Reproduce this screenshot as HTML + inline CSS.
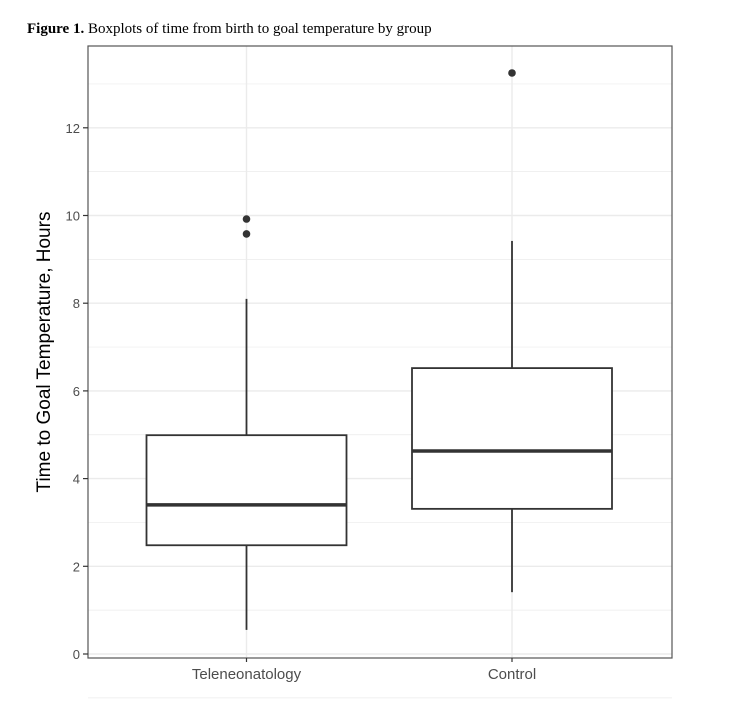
<!DOCTYPE html>
<html><head><meta charset="utf-8"><style>
body{margin:0;background:#fff;width:752px;height:725px;overflow:hidden}
svg{display:block}
</style></head><body>
<svg id="chart" width="752" height="725" font-family="Liberation Sans, sans-serif">
<text x="27" y="33" font-family="Liberation Serif, serif" font-size="15" fill="#000"><tspan font-weight="bold">Figure 1.</tspan> Boxplots of time from birth to goal temperature by group</text>
<rect x="88" y="46" width="584" height="612" fill="#fff" stroke="none"/>
<g id="grid"></g>
<g id="marks"></g>
<rect x="88" y="46" width="584" height="612" fill="none" stroke="#555" stroke-width="1.2"/>
<g id="axes"></g>
<text transform="translate(50,352) rotate(-90)" text-anchor="middle" font-size="19" fill="#000">Time to Goal Temperature, Hours</text>
</svg>
<script>
const categories=["Teleneonatology","Control"];
const lowWhisker=[0.55,1.41];
const q1=[2.48,3.31];
const medians=[3.40,4.63];
const q3=[4.99,6.52];
const highWhisker=[8.10,9.42];
const outlierGroup=[0,0,1];
const outlierValue=[9.92,9.58,13.25];
const yTicks=[0,2,4,6,8,10,12];
const NS="http://www.w3.org/2000/svg";
const y=v=>654-v*43.85;
const x=i=>246.5+i*265.5;
const boxHalf=100;
function mk(tag,attrs,parent){const e=document.createElementNS(NS,tag);for(const k in attrs)e.setAttribute(k,attrs[k]);document.getElementById(parent).appendChild(e);return e;}
// grid
for(let v=-1;v<=13;v++){const e=mk('line',{x1:88,x2:672,y1:y(v),y2:y(v),stroke:'#ebebeb','stroke-width':v%2===0?1.4:0.7},'grid');

}
categories.forEach((c,i)=>{const e=mk('line',{x1:x(i),x2:x(i),y1:46,y2:658,stroke:'#ebebeb','stroke-width':1.4},'grid');

});
// boxes
categories.forEach((c,i)=>{
const w1=mk('line',{x1:x(i),x2:x(i),y1:y(highWhisker[i]),y2:y(q3[i]),stroke:'#333','stroke-width':1.8},'marks');


const w2=mk('line',{x1:x(i),x2:x(i),y1:y(q1[i]),y2:y(lowWhisker[i]),stroke:'#333','stroke-width':1.8},'marks');


const b=mk('rect',{x:x(i)-boxHalf,y:y(q3[i]),width:2*boxHalf,height:y(q1[i])-y(q3[i]),fill:'#fff',stroke:'#333','stroke-width':1.8},'marks');


const m=mk('line',{x1:x(i)-boxHalf,x2:x(i)+boxHalf,y1:y(medians[i]),y2:y(medians[i]),stroke:'#333','stroke-width':3.5},'marks');


const t=mk('line',{x1:x(i),x2:x(i),y1:658,y2:662,stroke:'#333','stroke-width':1.2},'axes');


const l=mk('text',{x:x(i),y:679,'text-anchor':'middle','font-size':15,fill:'#4d4d4d'},'axes');l.textContent=c;


});
outlierValue.forEach((v,k)=>{const p=mk('circle',{cx:x(outlierGroup[k]),cy:y(v),r:3.8,fill:'#333'},'marks');

});
yTicks.forEach(v=>{const t=mk('line',{x1:83,x2:88,y1:y(v),y2:y(v),stroke:'#333','stroke-width':1.2},'axes');


const l=mk('text',{x:80,y:y(v)+5,'text-anchor':'end','font-size':13,fill:'#4d4d4d'},'axes');l.textContent=v;

});
</script>
</body></html>
